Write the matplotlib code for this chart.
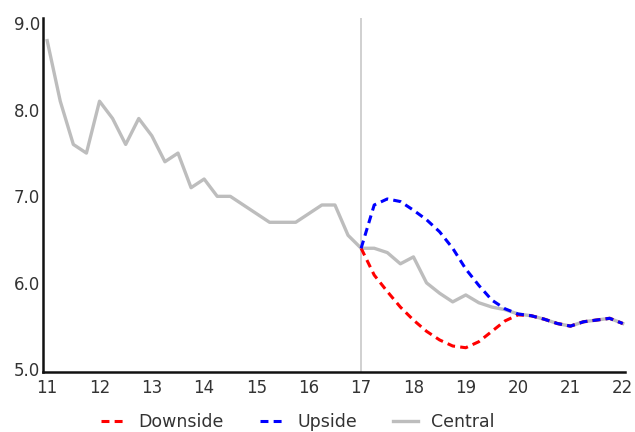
import matplotlib
matplotlib.use("Agg")
import matplotlib.pyplot as plt

# quarterly history + central projection
central_x = [11 + 0.25 * i for i in range(45)]
central_y = [
    8.8, 8.1, 7.6, 7.5, 8.1, 7.9, 7.6, 7.9, 7.7, 7.4, 7.5, 7.1,
    7.2, 7.0, 7.0, 6.9, 6.8, 6.7, 6.7, 6.7, 6.8, 6.9, 6.9, 6.55,
    6.4, 6.4, 6.35, 6.22, 6.3, 6.0, 5.88, 5.78, 5.86, 5.77, 5.72, 5.69,
    5.64, 5.62, 5.58, 5.53, 5.5, 5.55, 5.57, 5.59, 5.53,
]

# scenarios from 17 onwards (join the central path after 20)
scen_x = [17 + 0.25 * i for i in range(21)]
upside_y = [
    6.4, 6.9, 6.97, 6.94, 6.84, 6.73, 6.59, 6.4, 6.16, 5.97, 5.8, 5.7,
    5.64, 5.62, 5.58, 5.53, 5.5, 5.55, 5.57, 5.59, 5.53,
]
downside_y = [
    6.4, 6.09, 5.9, 5.72, 5.57, 5.44, 5.34, 5.27, 5.25, 5.32, 5.44, 5.56,
    5.63, 5.62, 5.58, 5.53, 5.5, 5.55, 5.57, 5.59, 5.53,
]

x_ticks = list(range(11, 23))
y_ticks = [5.0, 6.0, 7.0, 8.0, 9.0]

fig = plt.figure(figsize=(6.35, 4.32), dpi=100)
ax = fig.add_axes([0.0677, 0.139, 0.9163, 0.819])

ax.axvline(17, color="#c8c8c8", linewidth=1.2, zorder=1)
ax.plot(central_x, central_y, color="#bdbdbd", linewidth=2.4, label="Central", zorder=2)
ax.plot(scen_x, downside_y, color="#ff0000", linewidth=2.2,
        linestyle=(0, (2.6, 1.7)), label="Downside", zorder=3)
ax.plot(scen_x, upside_y, color="#0000ff", linewidth=2.2,
        linestyle=(0, (2.6, 1.7)), label="Upside", zorder=4)

ax.set_xlim(10.92, 22.04)
ax.set_ylim(4.97, 9.06)
ax.set_xticks(x_ticks)
ax.set_yticks(y_ticks)
ax.set_yticklabels([f"{v:.1f}" for v in y_ticks])
ax.tick_params(length=0, labelsize=12, colors="#333333")
ax.tick_params(axis="x", pad=5)
ax.tick_params(axis="y", pad=2)

for side in ("top", "right"):
    ax.spines[side].set_visible(False)
for side in ("left", "bottom"):
    ax.spines[side].set_linewidth(1.8)
    ax.spines[side].set_color("#111111")

handles, labels = ax.get_legend_handles_labels()
order = [1, 2, 0]
fig.legend([handles[i] for i in order], [labels[i] for i in order],
           loc="center", bbox_to_anchor=(0.4685, 0.024), ncol=3, frameon=False,
           fontsize=12.5, handlelength=1.4, handletextpad=0.75, columnspacing=2.1,
           labelcolor="#333333")

fig.savefig("out.png", dpi=100)
